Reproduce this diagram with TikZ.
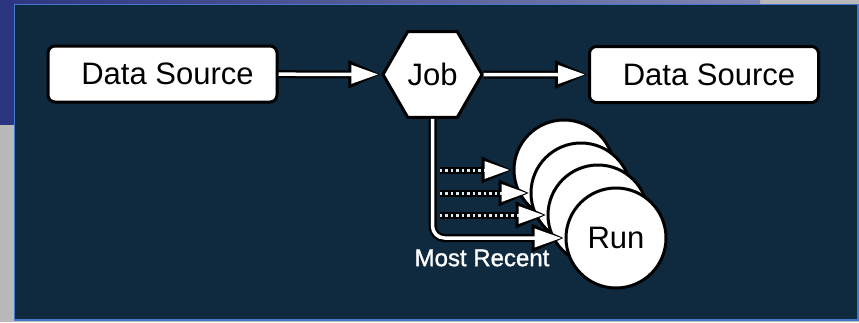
\documentclass[tikz,border=0pt]{standalone}
\usepackage{fontspec}
\setmainfont{Liberation Sans}
\newfontfamily\heavyfont[FakeBold=1.2]{Liberation Sans}
\usetikzlibrary{arrows.meta, positioning, calc, shapes.geometric}
\definecolor{panel}{HTML}{0F2A3F}
\definecolor{frameblue}{HTML}{4678CC}
\definecolor{bandblue}{HTML}{2C3580}
\definecolor{dotwhite}{HTML}{D8ECF4}

\begin{document}
\begin{tikzpicture}[x=1pt, y=-1pt, font=\fontsize{31}{34}\selectfont,
  srcbox/.style={draw=black, line width=3pt, fill=white, rounded corners=7pt, minimum width=229pt, minimum height=56pt, inner sep=0pt},
  jobhex/.style={draw=black, line width=3pt, fill=white, regular polygon, regular polygon sides=6, minimum size=99pt, inner sep=0pt},
  runcirc/.style={draw=black, line width=3pt, fill=white, circle, minimum size=100pt, inner sep=0pt},
  flow/.style={white, line width=3.5pt, shorten >=3pt, -{Triangle[length=27pt, width=18pt]},
    preaction={draw=black, line width=8pt, shorten >=0pt, -{Triangle[length=33pt, width=26pt]}}},
  dotflow/.style={dotwhite, line width=3pt, dash pattern=on 2.5pt off 3pt, shorten >=3pt, -{Triangle[length=25pt, width=17pt, color=white]},
    preaction={draw=black, line width=7pt, solid, shorten >=0pt, -{Triangle[length=31pt, width=25pt]}}}]
  \useasboundingbox (0,0) rectangle (859,322);
  \fill[gray!55] (0,0) rectangle (859,322);
  \shade[left color=bandblue, right color=bandblue!60!white] (0,0) rectangle (760,4.5);
  \fill[bandblue] (0,0) rectangle (14.5,125);
  \draw[frameblue, fill=panel, line width=1.5pt] (14.5,4.5) rectangle (858,320);

  \node[srcbox] (src) at (162.5,74) {\hspace*{10pt}Data Source};
  \node[jobhex] (job) at (432.5,74.5) {Job};
  \node[srcbox] (dst) at (704,74.5) {\hspace*{10pt}Data Source};

  \node[runcirc] (run1) at (564,170) {};
  \node[runcirc] (run2) at (581,193) {};
  \node[runcirc] (run3) at (598,215) {};
  \node[runcirc] (run4) at (616,238) {Run};

  \draw[flow] (src) -- (job);
  \draw[flow] (job) -- (dst);
  \draw[flow, rounded corners=12pt] (job.south) |- (run4.west);
  \foreach \i in {1,2,3} {
    \coordinate (d\i) at ($(job.south |- run\i.west)+(7,0)$);
    \draw[dotflow] (d\i) -- (run\i.west);
  }
  \node[font=\heavyfont\fontsize{24}{26}\selectfont, text=white] (recent) at (482,258) {Most Recent};
\end{tikzpicture}
\end{document}
